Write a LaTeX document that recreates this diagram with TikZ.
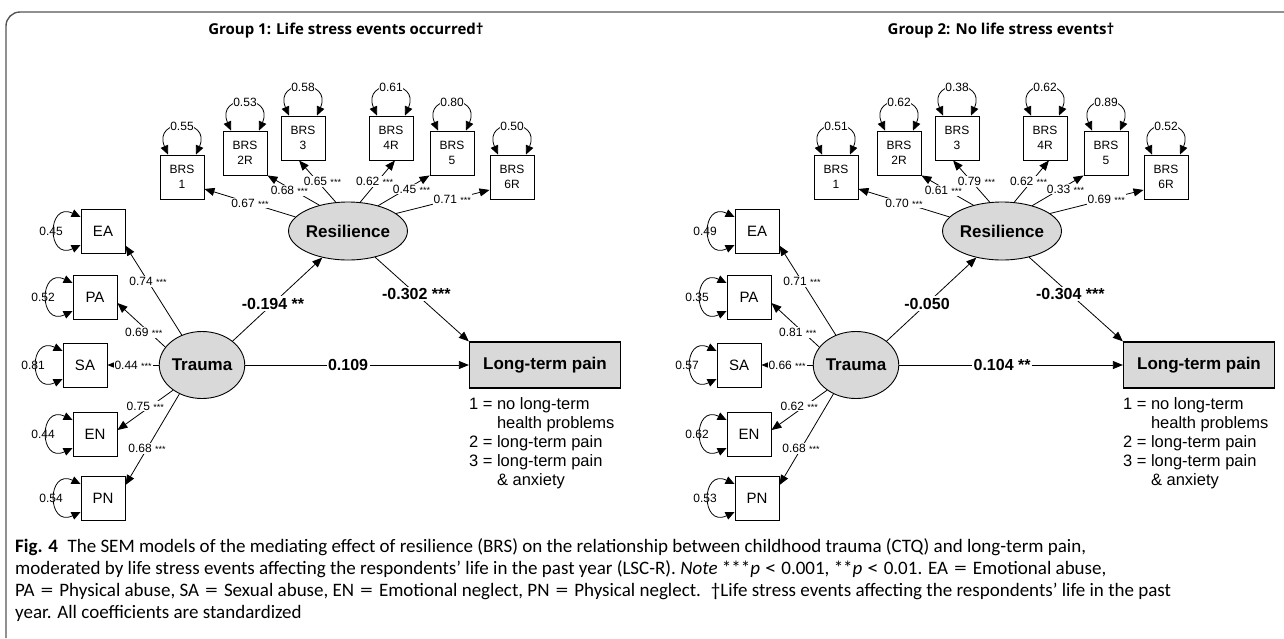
\documentclass[tikz,border=0pt]{standalone}
\usepackage{fontspec}
\usepackage{graphicx}
\setmainfont{Liberation Sans}
\newfontfamily\titlefont{Open Sans}
\newfontfamily\capfont{Carlito}
\usetikzlibrary{arrows.meta,shapes.geometric}

\definecolor{latfill}{RGB}{217,217,217}
\definecolor{framegray}{RGB}{85,85,85}
\newcommand{\sig}[1]{{\fontsize{9}{9}\selectfont #1}}
\newcommand{\capeq}{\hspace{6pt}\scalebox{1.35}[1]{=}\hspace{6pt}}
\newcommand{\caplt}{\hspace{5pt}\scalebox{1.2}[1]{<}\hspace{5pt}}

\tikzset{
  brsbox/.style={draw, line width=0.9pt, minimum size=44pt, inner sep=0pt, align=center, font=\fontsize{12}{15}\selectfont},
  ctqbox/.style={draw, line width=0.9pt, minimum size=44pt, inner sep=0pt, font=\fontsize{15}{15}\selectfont},
  latent/.style={ellipse, draw, line width=0.9pt, fill=latfill, inner sep=0pt, font=\bfseries\fontsize{17}{17}\selectfont},
  outcome/.style={draw, line width=1.3pt, fill=latfill, minimum width=151pt, minimum height=46pt, font=\bfseries\fontsize{17}{17}\selectfont},
  effect/.style={line width=0.8pt, -{Triangle[length=10pt,width=8pt]}},
  errvar/.style={line width=0.8pt, {Triangle[length=9pt,width=8pt]}-{Triangle[length=9pt,width=8pt]}},
  coef/.style={fill=white, inner sep=1pt, font=\fontsize{12}{12}\selectfont},
  bcoef/.style={fill=white, inner sep=1.5pt, font=\bfseries\fontsize{16}{16}\selectfont},
  varlab/.style={inner sep=0.5pt, font=\fontsize{12}{12}\selectfont},
  codes/.style={align=left, inner sep=0pt, font=\fontsize{16.5}{19}\selectfont},
  grouptitle/.style={font=\titlefont\bfseries\fontsize{15}{15}\selectfont},
}

\begin{document}
\begin{tikzpicture}[x=1pt, y=-1pt]
\useasboundingbox (0,0) rectangle (1284,638);
\draw[framegray, line width=1.4pt, rounded corners=14pt] (1284,12) -- (6,12) -- (6,638);

% group 1
\begin{scope}[name prefix=g1-]
  \node[grouptitle] (title) at (346,31) {Group 1: Life stress events occurred†};

  \node[brsbox] (b1) at (182,177) {BRS\\1};
  \node[brsbox] (b2) at (245,153) {BRS\\2R};
  \node[brsbox] (b3) at (303,138) {BRS\\3};
  \node[brsbox] (b4) at (391,138) {BRS\\4R};
  \node[brsbox] (b5) at (452,153) {BRS\\5};
  \node[brsbox] (b6) at (512,177) {BRS\\6R};

  \node[ctqbox] (ea) at (103,231) {EA};
  \node[ctqbox] (pa) at (95,297) {PA};
  \node[ctqbox] (sa) at (85,365) {SA};
  \node[ctqbox] (en) at (95,434) {EN};
  \node[ctqbox] (pn) at (103,498) {PN};

  \node[latent, minimum width=78pt, minimum height=67pt] (trauma) at (202,365) {Trauma};
  \node[latent, minimum width=114pt, minimum height=58pt] (resil) at (348,231) {Resilience};
  \node[outcome] (pain) at (545,365) {Long-term pain};
  \node[codes, anchor=north west] (key) at ([yshift=-9pt]pain.south west)
    {1 = no long-term\\\phantom{1 = }health problems\\2 = long-term pain\\3 = long-term pain\\\phantom{3 = }\& anxiety};

  % residual variances
  \draw[errvar] ([xshift=-14pt]b1.north) .. controls +(-16,-37) and +(16,-37) .. ([xshift=14pt]b1.north) node[varlab, fill=white, pos=0.5] {0.55};
  \draw[errvar] ([xshift=-14pt]b2.north) .. controls +(-16,-37) and +(16,-37) .. ([xshift=14pt]b2.north) node[varlab, fill=white, pos=0.5] {0.53};
  \draw[errvar] ([xshift=-14pt]b3.north) .. controls +(-16,-37) and +(16,-37) .. ([xshift=14pt]b3.north) node[varlab, fill=white, pos=0.5] {0.58};
  \draw[errvar] ([xshift=-14pt]b4.north) .. controls +(-16,-37) and +(16,-37) .. ([xshift=14pt]b4.north) node[varlab, fill=white, pos=0.5] {0.61};
  \draw[errvar] ([xshift=-14pt]b5.north) .. controls +(-16,-37) and +(16,-37) .. ([xshift=14pt]b5.north) node[varlab, fill=white, pos=0.5] {0.80};
  \draw[errvar] ([xshift=-14pt]b6.north) .. controls +(-16,-37) and +(16,-37) .. ([xshift=14pt]b6.north) node[varlab, fill=white, pos=0.5] {0.50};

  \draw[errvar] ([yshift=14pt]ea.west) .. controls +(-34,-16) and +(-34,16) .. ([yshift=-14pt]ea.west) node[varlab, pos=0.5, xshift=-4pt] {0.45};
  \draw[errvar] ([yshift=14pt]pa.west) .. controls +(-34,-16) and +(-34,16) .. ([yshift=-14pt]pa.west) node[varlab, pos=0.5, xshift=-4pt] {0.52};
  \draw[errvar] ([yshift=14pt]sa.west) .. controls +(-34,-16) and +(-34,16) .. ([yshift=-14pt]sa.west) node[varlab, pos=0.5, xshift=-4pt] {0.81};
  \draw[errvar] ([yshift=14pt]en.west) .. controls +(-34,-16) and +(-34,16) .. ([yshift=-14pt]en.west) node[varlab, pos=0.5, xshift=-4pt] {0.44};
  \draw[errvar] ([yshift=14pt]pn.west) .. controls +(-34,-16) and +(-34,16) .. ([yshift=-14pt]pn.west) node[varlab, pos=0.5, xshift=-4pt] {0.54};

  % loadings
  \draw[effect] (resil.165) -- (b1.-28) node[coef, pos=0.5] {0.67 \sig{***}};
  \draw[effect] (resil.138) -- (b2.south east) node[coef, pos=0.5, xshift=-4pt] {0.68 \sig{***}};
  \draw[effect] (resil.113) -- (b3.-100) node[coef, pos=0.5, xshift=5pt] {0.65 \sig{***}};
  \draw[effect] (resil.67) -- (b4.-80) node[coef, pos=0.5, xshift=-3pt] {0.62 \sig{***}};
  \draw[effect] (resil.40) -- (b5.south west) node[coef, pos=0.55, xshift=5pt] {0.45 \sig{***}};
  \draw[effect] (resil.20) -- (b6.-150) node[coef, pos=0.6] {0.71 \sig{***}};

  \draw[effect] (trauma.124) -- (ea.-33) node[coef, pos=0.6] {0.74 \sig{***}};
  \draw[effect] (trauma.154) -- (pa.-15) node[coef, pos=0.45, yshift=-5pt] {0.69 \sig{***}};
  \draw[effect] (trauma.west) -- (sa.east) node[coef, pos=0.5] {0.44 \sig{***}};
  \draw[effect] (trauma.221) -- (en.10) node[coef, pos=0.5, yshift=4pt] {0.75 \sig{***}};
  \draw[effect] (trauma.232) -- (pn.30) node[coef, pos=0.6] {0.68 \sig{***}};

  % structural paths
  \draw[effect] (trauma.38) -- (resil.-134) node[bcoef, pos=0.45] {-0.194 **};
  \draw[effect] (resil.-44) -- (pain.north west) node[bcoef, pos=0.44] {-0.302 ***};
  \draw[effect] (trauma.east) -- (pain.west) node[bcoef, pos=0.46] {0.109};
\end{scope}

% group 2
\begin{scope}[xshift=654pt, name prefix=g2-]
  \node[grouptitle] (title) at (347,31) {Group 2: No life stress events†};

  \node[brsbox] (b1) at (182,177) {BRS\\1};
  \node[brsbox] (b2) at (245,153) {BRS\\2R};
  \node[brsbox] (b3) at (303,138) {BRS\\3};
  \node[brsbox] (b4) at (391,138) {BRS\\4R};
  \node[brsbox] (b5) at (452,153) {BRS\\5};
  \node[brsbox] (b6) at (512,177) {BRS\\6R};

  \node[ctqbox] (ea) at (103,231) {EA};
  \node[ctqbox] (pa) at (95,297) {PA};
  \node[ctqbox] (sa) at (85,365) {SA};
  \node[ctqbox] (en) at (95,434) {EN};
  \node[ctqbox] (pn) at (103,498) {PN};

  \node[latent, minimum width=78pt, minimum height=67pt] (trauma) at (202,365) {Trauma};
  \node[latent, minimum width=114pt, minimum height=58pt] (resil) at (348,231) {Resilience};
  \node[outcome] (pain) at (545,365) {Long-term pain};
  \node[codes, anchor=north west] (key) at ([yshift=-9pt]pain.south west)
    {1 = no long-term\\\phantom{1 = }health problems\\2 = long-term pain\\3 = long-term pain\\\phantom{3 = }\& anxiety};

  % residual variances
  \draw[errvar] ([xshift=-14pt]b1.north) .. controls +(-16,-37) and +(16,-37) .. ([xshift=14pt]b1.north) node[varlab, fill=white, pos=0.5] {0.51};
  \draw[errvar] ([xshift=-14pt]b2.north) .. controls +(-16,-37) and +(16,-37) .. ([xshift=14pt]b2.north) node[varlab, fill=white, pos=0.5] {0.62};
  \draw[errvar] ([xshift=-14pt]b3.north) .. controls +(-16,-37) and +(16,-37) .. ([xshift=14pt]b3.north) node[varlab, fill=white, pos=0.5] {0.38};
  \draw[errvar] ([xshift=-14pt]b4.north) .. controls +(-16,-37) and +(16,-37) .. ([xshift=14pt]b4.north) node[varlab, fill=white, pos=0.5] {0.62};
  \draw[errvar] ([xshift=-14pt]b5.north) .. controls +(-16,-37) and +(16,-37) .. ([xshift=14pt]b5.north) node[varlab, fill=white, pos=0.5] {0.89};
  \draw[errvar] ([xshift=-14pt]b6.north) .. controls +(-16,-37) and +(16,-37) .. ([xshift=14pt]b6.north) node[varlab, fill=white, pos=0.5] {0.52};

  \draw[errvar] ([yshift=14pt]ea.west) .. controls +(-34,-16) and +(-34,16) .. ([yshift=-14pt]ea.west) node[varlab, pos=0.5, xshift=-4pt] {0.49};
  \draw[errvar] ([yshift=14pt]pa.west) .. controls +(-34,-16) and +(-34,16) .. ([yshift=-14pt]pa.west) node[varlab, pos=0.5, xshift=-4pt] {0.35};
  \draw[errvar] ([yshift=14pt]sa.west) .. controls +(-34,-16) and +(-34,16) .. ([yshift=-14pt]sa.west) node[varlab, pos=0.5, xshift=-4pt] {0.57};
  \draw[errvar] ([yshift=14pt]en.west) .. controls +(-34,-16) and +(-34,16) .. ([yshift=-14pt]en.west) node[varlab, pos=0.5, xshift=-4pt] {0.62};
  \draw[errvar] ([yshift=14pt]pn.west) .. controls +(-34,-16) and +(-34,16) .. ([yshift=-14pt]pn.west) node[varlab, pos=0.5, xshift=-4pt] {0.53};

  % loadings
  \draw[effect] (resil.165) -- (b1.-28) node[coef, pos=0.5] {0.70 \sig{***}};
  \draw[effect] (resil.138) -- (b2.south east) node[coef, pos=0.5, xshift=-4pt] {0.61 \sig{***}};
  \draw[effect] (resil.113) -- (b3.-100) node[coef, pos=0.5, xshift=5pt] {0.79 \sig{***}};
  \draw[effect] (resil.67) -- (b4.-80) node[coef, pos=0.5, xshift=-3pt] {0.62 \sig{***}};
  \draw[effect] (resil.40) -- (b5.south west) node[coef, pos=0.55, xshift=5pt] {0.33 \sig{***}};
  \draw[effect] (resil.20) -- (b6.-150) node[coef, pos=0.6] {0.69 \sig{***}};

  \draw[effect] (trauma.124) -- (ea.-33) node[coef, pos=0.6] {0.71 \sig{***}};
  \draw[effect] (trauma.154) -- (pa.-15) node[coef, pos=0.45, yshift=-5pt] {0.81 \sig{***}};
  \draw[effect] (trauma.west) -- (sa.east) node[coef, pos=0.5] {0.66 \sig{***}};
  \draw[effect] (trauma.221) -- (en.10) node[coef, pos=0.5, yshift=4pt] {0.62 \sig{***}};
  \draw[effect] (trauma.232) -- (pn.30) node[coef, pos=0.6] {0.68 \sig{***}};

  % structural paths
  \draw[effect] (trauma.38) -- (resil.-134) node[bcoef, pos=0.45] {-0.050};
  \draw[effect] (resil.-44) -- (pain.north west) node[bcoef, pos=0.44] {-0.304 ***};
  \draw[effect] (trauma.east) -- (pain.west) node[bcoef, pos=0.46] {0.104 **};
\end{scope}

% caption
\node[anchor=north west, align=left, inner sep=0pt, font=\capfont\fontsize{19}{22}\selectfont] (caption) at (15,538)
  {{\bfseries Fig. 4}\enspace The SEM models of the mediating effect of resilience (BRS) on the relationship between childhood trauma (CTQ) and long-term pain,\\
   moderated by life stress events affecting the respondents’ life in the past year (LSC-R). \textit{Note} ***\textit{p}\caplt0.001, **\textit{p}\caplt0.01. EA\capeq Emotional abuse,\\
   PA\capeq Physical abuse, SA\capeq Sexual abuse, EN\capeq Emotional neglect, PN\capeq Physical neglect. \ †Life stress events affecting the respondents’ life in the past\\
   year. All coefficients are standardized};
\end{tikzpicture}
\end{document}
